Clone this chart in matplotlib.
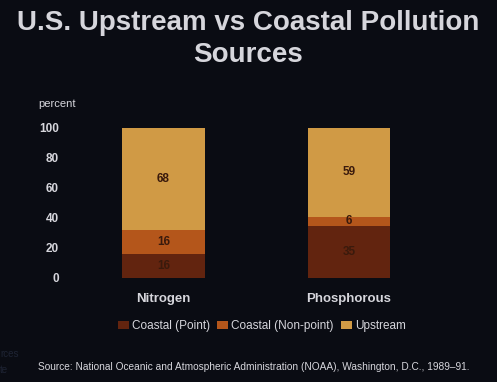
import matplotlib.pyplot as plt
from matplotlib.patches import Patch

bg = "#0a0c13"
txt = "#d6d6dc"

categories = ["Nitrogen", "Phosphorous"]
series_names = ["Coastal (Point)", "Coastal (Non-point)", "Upstream"]
coastal_point = [16, 35]
coastal_nonpoint = [16, 6]
upstream = [68, 59]
series_colors = ["#62240f", "#b4561b", "#d09a45"]
yticks = [0, 20, 40, 60, 80, 100]

plt.rcParams['font.family'] = ['Liberation Sans', 'DejaVu Sans']

fig = plt.figure(figsize=(4.97, 3.82), dpi=100, facecolor=bg)
W, H = 497, 382
# axes placed so 0..100 spans pixel rows 278..128
ax = fig.add_axes([70 / W, (H - 278) / H, 350 / W, 150 / H])
ax.set_facecolor(bg)

x = [0, 1]
width = 0.447
bottoms = [0, 0]
for vals, col in zip([coastal_point, coastal_nonpoint, upstream], series_colors):
    bars = ax.bar(x, vals, width, bottom=bottoms, color=col, linewidth=0)
    for xi, v, b in zip(x, vals, bottoms):
        ax.text(xi, b + v / 2, str(v), ha='center', va='center',
                fontsize=8.5, fontweight='bold', color="#3a1a0c")
    bottoms = [b + v for b, v in zip(bottoms, vals)]

ax.set_xlim(-0.504, 1.383)
ax.set_ylim(0, 100)
ax.set_yticks(yticks)
ax.set_yticklabels([str(t) for t in yticks], fontsize=8.5, fontweight='bold', color=txt)
ax.set_xticks(x)
ax.set_xticklabels(categories, fontsize=9.5, fontweight='bold', color=txt)
ax.tick_params(axis='y', length=0, pad=8)
ax.tick_params(axis='x', length=0, pad=11)
for s in ax.spines.values():
    s.set_visible(False)

fig.text(38 / W, 1 - 104 / H, "percent", fontsize=8, color=txt, va='center', ha='left')

fig.text(0.5, 1 - 10 / H, "U.S. Upstream vs Coastal Pollution\nSources", ha='center', va='top',
         fontsize=20, fontweight='bold', color=txt, linespacing=1.3)

handles = [Patch(facecolor=c, edgecolor='none') for c in series_colors]
fig.legend(handles, series_names, loc='center', bbox_to_anchor=(262 / W, 1 - 326 / H),
           ncol=3, frameon=False, fontsize=8.5, labelcolor=txt, handlelength=0.9,
           handleheight=0.6, handletextpad=0.3, columnspacing=0.6)

fig.text(38 / W, 1 - 367 / H,
         "Source: National Oceanic and Atmospheric Administration (NOAA), Washington, D.C., 1989\u201391.",
         fontsize=7.3, color=txt, va='center', ha='left')

# faint ghost text at the left edge
fig.text(0, 1 - 354 / H, "rces", fontsize=7, color="#1e2434", va='center', ha='left')
fig.text(0, 1 - 370 / H, "te", fontsize=7, color="#1e2434", va='center', ha='left')

fig.savefig("out.png", dpi=100, facecolor=bg)
